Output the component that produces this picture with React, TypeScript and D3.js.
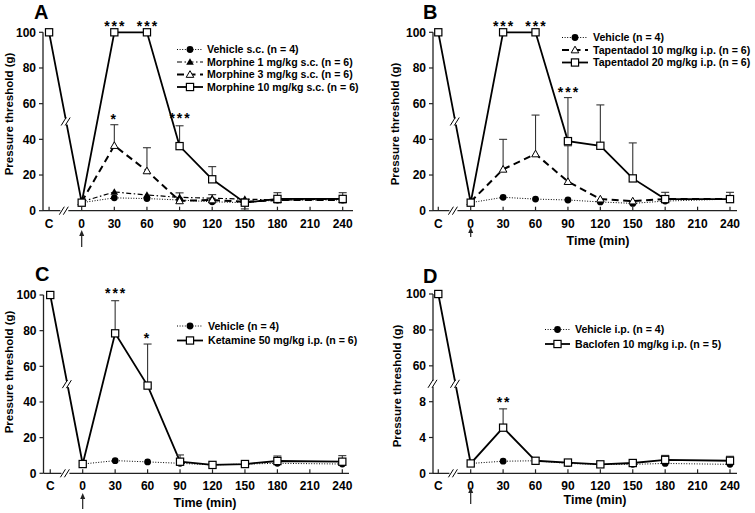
import React from "react";
import * as d3 from "d3";

// ---------- data ----------
const TICK_T = [-30, 0, 30, 60, 90, 120, 150, 180, 210, 240];
const TICK_LABELS = ["C", "0", "30", "60", "90", "120", "150", "180", "210", "240"];
const PT_T = [-30, 0, 30, 60, 90, 120, 150, 180, 240];

// Panel A
const vehA = [null, 4.5, 7.2, 6.8, 6, 5, 4.5, 6, 6];
const mor1 = [null, 5, 10.5, 8.8, 7.5, 7, 6.5, 6, 6.5];
const mor1Err = [null, null, null, null, 10, 9, null, null, null];
const mor3 = [null, 5, 36.5, 22.3, 5.5, 6, 5, 6, 6];
const mor3Err = [null, null, 48.2, 35.3, null, null, null, null, null];
const mor10 = [100, 4.5, 100, 100, 36.2, 17.6, 4.5, 6.6, 6.6];
const mor10Err = [null, null, null, null, 47.6, 24.7, null, 10.1, 10.1];
const mor10ErrLow = [null, null, null, null, null, null, 1, null, null];
const starsA = [
  { t: 30, v: 105, s: "***" },
  { t: 60, v: 105, s: "***" },
  { t: 30, v: 53, s: "*" },
  { t: 90, v: 53.5, s: "***" },
];

// Panel B
const vehB = [null, 4.5, 7.5, 6.5, 6, 4.9, 4.1, 5.4, 6.5];
const tap10 = [null, 5, 23.2, 31.8, 16.3, 6.5, 5.4, 6.5, 6.5];
const tap10Err = [null, null, 40, 53.6, 36.4, null, null, null, null];
const tap20 = [100, 4.5, 100, 100, 39, 36.4, 18.1, 6.5, 6.5];
const tap20Err = [null, null, null, null, 63.4, 59.3, 38, 10.3, 10.3];
const starsB = [
  { t: 30, v: 105, s: "***" },
  { t: 60, v: 105, s: "***" },
  { t: 90, v: 68, s: "***" },
];

// Panel C
const vehC = [null, 5.2, 7.1, 6.4, 5.6, 4.7, 5.2, 5.6, 5.2];
const ket = [100, 5.2, 78.5, 49.2, 6.5, 4.7, 5.2, 6.9, 6.5];
const ketErr = [null, null, 96.8, 72.5, 10.3, null, null, 9.7, 9.9];
const starsC = [
  { t: 30, v: 102.8, s: "***" },
  { t: 60, v: 77.6, s: "*" },
];

// Panel D
const vehD = [null, 1.1, 1.35, 1.4, 1.1, 1.0, 1.0, 1.1, 1.0];
const bac = [100, 1.1, 5.1, 1.4, 1.2, 1.0, 1.15, 1.5, 1.4];
const bacErr = [null, null, 7.2, 1.75, null, null, null, 2.0, 1.9];
const starsD = [{ t: 30, v: 8.3, s: "**" }];

const Y_TICKS_STD = [0, 20, 40, 60, 80, 100];
const Y_TICKS_D = [0, 4, 8, 60, 80, 100];

// ---------- styles ----------
const FONT = "'Liberation Sans', Arial, Helvetica, sans-serif";
const LINE_STYLES: Record<string, { w: number; dash?: string }> = {
  dot: { w: 1, dash: "1,1.6" },
  dashdot: { w: 1.2, dash: "5,2.5,1.5,2.5" },
  dash: { w: 2, dash: "7,4.5" },
  solid: { w: 1.8 },
};

type Series = {
  name: string;
  values: (number | null)[];
  err?: (number | null)[];
  errLow?: (number | null)[];
  line: string;
  marker: string;
};

function Marker({ kind, cx, cy }: { kind: string; cx: number; cy: number }) {
  if (kind === "circle") return <circle cx={cx} cy={cy} r={3.4} fill="#000" />;
  if (kind === "square")
    return <rect x={cx - 3.6} y={cy - 3.6} width={7.2} height={7.2} fill="#fff" stroke="#000" strokeWidth={1.2} />;
  const s = 3.8;
  const pts = `${cx},${cy - s} ${cx - s},${cy + s * 0.75} ${cx + s},${cy + s * 0.75}`;
  if (kind === "tri") return <polygon points={pts} fill="#000" />;
  return <polygon points={pts} fill="#fff" stroke="#000" strokeWidth={1} />;
}

function BreakMark({ x, y }: { x: number; y: number }) {
  return (
    <g>
      <rect x={x - 4} y={y - 3} width={8} height={6} fill="#fff" />
      <line x1={x - 5} y1={y + 4} x2={x} y2={y - 4} stroke="#000" strokeWidth={1} />
      <line x1={x - 1} y1={y + 4} x2={x + 4} y2={y - 4} stroke="#000" strokeWidth={1} />
    </g>
  );
}

type Cfg = {
  left: number;
  x0: number;
  x240: number;
  axisEnd: number;
  yDomain: number[];
  yRange: number[];
  yTicks: number[];
  yBreak?: number;
  series: Series[];
  stars: { t: number; v: number; s: string }[];
  title: string;
  titlePos: [number, number];
  yLabelPos: [number, number];
  xLabelPos?: [number, number];
  arrow: [number, number];
  legend: { x1: number; x2: number; tx: number; rows: number[] };
};

function Panel({ cfg }: { cfg: Cfg }) {
  const x = d3.scaleLinear().domain([0, 240]).range([cfg.x0, cfg.x240]);
  const y = d3.scaleLinear().domain(cfg.yDomain).range(cfg.yRange);
  const y0 = y(0);
  const yTop = y(100);

  const line = d3
    .line<{ t: number; v: number }>()
    .x((d) => x(d.t))
    .y((d) => y(d.v));

  const pts = (s: Series) =>
    PT_T.map((t, i) => ({ t, v: s.values[i] as number })).filter((d) => d.v != null);

  // break on C->0 segment
  const main = cfg.series.find((s) => s.values[0] != null)!;
  const pC = { x: x(-30), y: y(main.values[0] as number) };
  const p0 = { x: x(0), y: y(main.values[1] as number) };
  const by = y(50);
  const f = (by - pC.y) / (p0.y - pC.y);
  const bx = pC.x + f * (p0.x - pC.x);

  return (
    <g fontFamily={FONT} fontWeight="bold">
      {/* axes */}
      <line x1={cfg.left} y1={y0} x2={cfg.axisEnd} y2={y0} stroke="#222" strokeWidth={1.3} />
      <line x1={cfg.left} y1={y0} x2={cfg.left} y2={yTop} stroke="#222" strokeWidth={1.3} />
      {cfg.yTicks.map((t) => (
        <g key={t}>
          <line x1={cfg.left - 4} x2={cfg.left} y1={y(t)} y2={y(t)} stroke="#222" strokeWidth={1.2} />
          <text x={cfg.left - 7} y={y(t)} dy="0.36em" textAnchor="end" fontSize={12}>
            {t}
          </text>
        </g>
      ))}
      {TICK_T.map((t, i) => (
        <g key={t}>
          <line x1={x(t)} x2={x(t)} y1={y0} y2={y0 - 4} stroke="#222" strokeWidth={1.2} />
          <text x={x(t)} y={y0 + 17} textAnchor="middle" fontSize={12}>
            {TICK_LABELS[i]}
          </text>
        </g>
      ))}
      <BreakMark x={x(-16)} y={y0} />
      {cfg.yBreak != null && <BreakMark x={cfg.left} y={cfg.yBreak} />}

      {/* arrow */}
      <line x1={x(0)} x2={x(0)} y1={cfg.arrow[0] + 4} y2={cfg.arrow[1]} stroke="#222" strokeWidth={1.2} />
      <polygon
        points={`${x(0)},${cfg.arrow[0]} ${x(0) - 2.5},${cfg.arrow[0] + 6} ${x(0) + 2.5},${cfg.arrow[0] + 6}`}
        fill="#222"
      />

      {/* labels */}
      <text x={cfg.titlePos[0]} y={cfg.titlePos[1]} fontSize={20}>
        {cfg.title}
      </text>
      <text
        transform={`translate(${cfg.yLabelPos[0]},${cfg.yLabelPos[1]}) rotate(-90)`}
        textAnchor="middle"
        dy="0.36em"
        fontSize={11.5}
      >
        Pressure threshold (g)
      </text>
      {cfg.xLabelPos && (
        <text x={cfg.xLabelPos[0]} y={cfg.xLabelPos[1]} textAnchor="middle" fontSize={12.5}>
          Time (min)
        </text>
      )}

      {/* lines */}
      {cfg.series.map((s) => {
        const st = LINE_STYLES[s.line];
        return (
          <path
            key={s.name}
            d={line(pts(s)) || ""}
            fill="none"
            stroke="#000"
            strokeWidth={st.w}
            strokeDasharray={st.dash}
          />
        );
      })}
      <BreakMark x={bx} y={by} />

      {/* error bars */}
      {cfg.series.map((s) =>
        PT_T.map((t, i) => {
          const v = s.values[i];
          const out: React.ReactNode[] = [];
          if (v == null) return null;
          const e = s.err ? s.err[i] : null;
          const el = s.errLow ? s.errLow[i] : null;
          if (e != null) {
            out.push(
              <g key={"u" + i}>
                <line x1={x(t)} x2={x(t)} y1={y(v)} y2={y(e)} stroke="#333" strokeWidth={1.1} />
                <line x1={x(t) - 4} x2={x(t) + 4} y1={y(e)} y2={y(e)} stroke="#333" strokeWidth={1.1} />
              </g>
            );
          }
          if (el != null) {
            out.push(
              <g key={"l" + i}>
                <line x1={x(t)} x2={x(t)} y1={y(v)} y2={y(el)} stroke="#333" strokeWidth={1.1} />
                <line x1={x(t) - 4} x2={x(t) + 4} y1={y(el)} y2={y(el)} stroke="#333" strokeWidth={1.1} />
              </g>
            );
          }
          return <g key={s.name + t}>{out}</g>;
        })
      )}

      {/* markers */}
      {cfg.series.map((s) =>
        pts(s).map((d) => <Marker key={s.name + d.t} kind={s.marker} cx={x(d.t)} cy={y(d.v)} />)
      )}

      {/* stars */}
      {cfg.stars.map((s, i) => (
        <text
          key={i}
          x={x(s.t) + (s.s.length > 1 ? 1 : 0)}
          y={y(s.v) + 8}
          textAnchor="middle"
          fontSize={14}
          letterSpacing={2}
        >
          {s.s}
        </text>
      ))}

      {/* legend */}
      {cfg.series.map((s, i) => {
        const st = LINE_STYLES[s.line];
        const ry = cfg.legend.rows[i];
        const mx = (cfg.legend.x1 + cfg.legend.x2) / 2;
        return (
          <g key={"lg" + s.name}>
            <line
              x1={cfg.legend.x1}
              x2={cfg.legend.x2}
              y1={ry}
              y2={ry}
              stroke="#000"
              strokeWidth={st.w}
              strokeDasharray={st.dash}
            />
            <Marker kind={s.marker} cx={mx} cy={ry} />
            <text x={cfg.legend.tx} y={ry} dy="0.36em" fontSize={10.6}>
              {s.name}
            </text>
          </g>
        );
      })}
    </g>
  );
}

const panelA: Cfg = {
  left: 43,
  x0: 81.7,
  x240: 342.7,
  axisEnd: 353,
  yDomain: [0, 100],
  yRange: [210.7, 32.3],
  yTicks: Y_TICKS_STD,
  series: [
    { name: "Vehicle s.c. (n = 4)", values: vehA, line: "dot", marker: "circle" },
    { name: "Morphine 1 mg/kg s.c. (n = 6)", values: mor1, err: mor1Err, line: "dashdot", marker: "tri" },
    { name: "Morphine 3 mg/kg s.c. (n = 6)", values: mor3, err: mor3Err, line: "dash", marker: "triOpen" },
    {
      name: "Morphine 10 mg/kg s.c. (n = 6)",
      values: mor10,
      err: mor10Err,
      errLow: mor10ErrLow,
      line: "solid",
      marker: "square",
    },
  ],
  stars: starsA,
  title: "A",
  titlePos: [34, 19],
  yLabelPos: [9, 114],
  arrow: [230, 247],
  legend: { x1: 177, x2: 203, tx: 207, rows: [49.5, 62, 74.5, 87] },
};

const panelB: Cfg = {
  left: 433,
  x0: 470.7,
  x240: 730,
  axisEnd: 737,
  yDomain: [0, 100],
  yRange: [210.7, 32.3],
  yTicks: Y_TICKS_STD,
  series: [
    { name: "Vehicle (n = 4)", values: vehB, line: "dot", marker: "circle" },
    { name: "Tapentadol 10 mg/kg i.p. (n = 6)", values: tap10, err: tap10Err, line: "dash", marker: "triOpen" },
    { name: "Tapentadol 20 mg/kg i.p. (n = 6)", values: tap20, err: tap20Err, line: "solid", marker: "square" },
  ],
  stars: starsB,
  title: "B",
  titlePos: [423, 19],
  yLabelPos: [395, 124],
  xLabelPos: [598, 245],
  arrow: [227, 237],
  legend: { x1: 562, x2: 588, tx: 593, rows: [37.5, 50, 62.5] },
};

const panelC: Cfg = {
  left: 43.5,
  x0: 82.7,
  x240: 342.3,
  axisEnd: 349,
  yDomain: [0, 100],
  yRange: [473.3, 295],
  yTicks: Y_TICKS_STD,
  series: [
    { name: "Vehicle (n = 4)", values: vehC, line: "dot", marker: "circle" },
    { name: "Ketamine 50 mg/kg i.p. (n = 6)", values: ket, err: ketErr, line: "solid", marker: "square" },
  ],
  stars: starsC,
  title: "C",
  titlePos: [35, 281],
  yLabelPos: [9, 372],
  xLabelPos: [205, 507],
  arrow: [493, 509],
  legend: { x1: 177, x2: 203, tx: 208, rows: [326, 340.5] },
};

const panelD: Cfg = {
  left: 433,
  x0: 470.7,
  x240: 730,
  axisEnd: 737,
  yDomain: [0, 10, 50, 100],
  yRange: [473.3, 383.8, 383.8, 294],
  yTicks: Y_TICKS_D,
  yBreak: 383.8,
  series: [
    { name: "Vehicle i.p. (n = 4)", values: vehD, line: "dot", marker: "circle" },
    { name: "Baclofen 10 mg/kg i.p. (n = 5)", values: bac, err: bacErr, line: "solid", marker: "square" },
  ],
  stars: starsD,
  title: "D",
  titlePos: [423, 283],
  yLabelPos: [397, 386],
  xLabelPos: [595, 504],
  arrow: [487, 504],
  legend: { x1: 545, x2: 570, tx: 575, rows: [329.5, 344] },
};

export default function App() {
  return (
    <svg
      width={755}
      height={513}
      viewBox="0 0 755 513"
      style={{ position: "absolute", left: 0, top: 0, background: "#fff" }}
    >
      <rect width={755} height={513} fill="#fff" />
      <Panel cfg={panelA} />
      <Panel cfg={panelB} />
      <Panel cfg={panelC} />
      <Panel cfg={panelD} />
    </svg>
  );
}
